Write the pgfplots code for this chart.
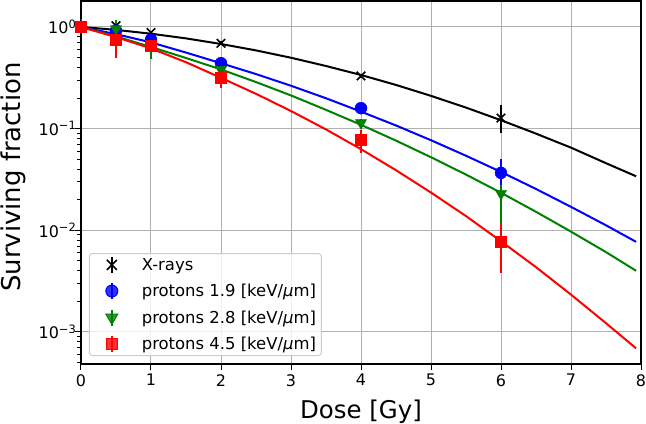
\documentclass[border=0pt]{standalone}
\usepackage{fontspec}
\setmainfont{DejaVu Sans}
\usepackage{pgfplots}
\usepackage{pgfplotstable}
\pgfplotsset{compat=1.18}

\definecolor{mplblue}{rgb}{0,0,1}
\definecolor{mplgreen}{rgb}{0,0.5,0}
\definecolor{mplred}{rgb}{1,0,0}
\definecolor{gridgray}{HTML}{B0B0B0}
\definecolor{legedge}{HTML}{CCCCCC}

\newcommand\tp[1]{10\raisebox{0.36em}{\fontsize{11.5}{12}\selectfont #1}}

% fitted survival curves
\pgfplotstableread{
D    k      b      g      r
0    1      1      1      1
0.5  0.936  0.850  0.808  0.795
1    0.858  0.705  0.635  0.615
1.5  0.772  0.560  0.495  0.450
2    0.680  0.440  0.382  0.316
2.5  0.588  0.344  0.287  0.220
3    0.498  0.264  0.212  0.149
3.5  0.413  0.199  0.153  0.0982
4    0.337  0.147  0.109  0.0628
4.5  0.269  0.1074 0.0762 0.0390
5    0.210  0.0769 0.0523 0.0235
5.5  0.161  0.0541 0.0353 0.0138
6    0.121  0.0375 0.0234 0.0078
6.5  0.0893 0.0255 0.0152 0.00434
7    0.065  0.0170 0.0097 0.00233
7.5  0.0457 0.0112 0.0061 0.00122
7.93 0.034  0.0077 0.0040 0.00069
}\fits

% measured points: dose, value, error plus, error minus
\pgfplotstableread{
x   y     ep     em
0   1.0   0.02   0.02
0.5 1.03  0.05   0.05
1   0.88  0.04   0.04
2   0.69  0.03   0.03
4   0.33  0.015  0.015
6   0.127 0.044  0.036
}\xrays
\pgfplotstableread{
x   y      ep     em
0   1.0    0.02   0.02
0.5 0.92   0.05   0.05
1   0.75   0.05   0.05
2   0.44   0.07   0.05
4   0.159  0.015  0.015
6   0.0367 0.014  0.012
}\pa
\pgfplotstableread{
x   y      ep     em
0   1.0    0.03   0.03
0.5 0.96   0.22   0.08
1   0.63   0.10   0.15
2   0.38   0.04   0.04
4   0.114  0.01   0.01
6   0.023  0.005  0.013
}\pb
\pgfplotstableread{
x   y      ep     em
0   1.0    0.20   0.13
0.5 0.745  0.10   0.245
1   0.66   0.07   0.07
2   0.315  0.04   0.065
4   0.077  0.02   0.019
6   0.0077 0.0041 0.0039
}\pc

\begin{document}
\begin{tikzpicture}
\path[use as bounding box] (-81bp,-60bp) rectangle (565bp,364bp);
\begin{axis}[
  at={(0bp,0bp)}, anchor=south west,
  scale only axis, width=560bp, height=363bp,
  xmin=0, xmax=8, ymode=log, ymin=4.84e-4, ymax=1.8,
  xtick={0,1,2,3,4,5,6,7,8},
  ytick={1e-3,1e-2,1e-1,1},
  yticklabels={\tp{−3},\tp{−2},\tp{−1},\tp{0}},
  minor ytick={5e-4,6e-4,7e-4,8e-4,9e-4,
    2e-3,3e-3,4e-3,5e-3,6e-3,7e-3,8e-3,9e-3,
    0.02,0.03,0.04,0.05,0.06,0.07,0.08,0.09,
    0.2,0.3,0.4,0.5,0.6,0.7,0.8,0.9},
  /pgf/number format/assume math mode=true,
  grid=major, major grid style={gridgray, line width=1bp},
  axis line style={line width=1.1bp},
  tick align=outside, tick pos=left,
  major tick length=6bp, minor tick length=3.5bp,
  every tick/.style={black, line width=1bp},
  ticklabel style={font=\fontsize{16}{19}\selectfont},
  xticklabel style={inner sep=0pt, anchor=north, yshift=-4bp},
  yticklabel style={inner sep=0pt, anchor=east, xshift=1bp},
  xlabel={Dose [Gy]}, ylabel={Surviving fraction},
  every axis x label/.style={at={(axis description cs:0.5,0)}, anchor=south,
    yshift=-60bp, inner sep=0pt, font=\fontsize{24.5}{29}\selectfont},
  every axis y label/.style={at={(axis description cs:0,0.515)}, xshift=-80bp,
    rotate=90, anchor=north, inner sep=0pt, font=\fontsize{26}{30}\selectfont},
  legend style={at={(0.014,0.022)}, anchor=south west, draw=legedge, line width=1bp,
    rounded corners=3bp, fill=white, fill opacity=0.8, text opacity=1,
    font=\fontsize{16.5}{19}\selectfont, row sep=7.5bp,
    nodes={inner sep=2.5bp}},
  legend cell align=left,
  error bars/y dir=both, error bars/y explicit,
  error bars/error mark=none,
  error bars/error bar style={line width=2bp},
]
\addplot[black, line width=2bp, forget plot] table[x=D, y=k] {\fits};
\addplot[black, only marks, mark=x, mark size=6bp, mark options={line width=1.6bp},
  legend image code/.code={
    \path (-19bp,0bp) (27bp,0bp);
    \draw[black, line width=2bp, sharp corners] (0bp,-8bp)--(0bp,8bp);
    \draw[black, line width=1.6bp, sharp corners]
      (-5bp,-5bp)--(5bp,5bp) (-5bp,5bp)--(5bp,-5bp);}]
  table[x=x, y=y, y error plus=ep, y error minus=em] {\xrays};
\addlegendentry{X-rays}

\addplot[mplblue, line width=2bp, forget plot] table[x=D, y=b] {\fits};
\addplot[mplblue, only marks, mark=*, mark size=6bp,
  legend image code/.code={
    \path (-19bp,0bp) (27bp,0bp);
    \draw[mplblue, line width=2bp, sharp corners] (0bp,-8bp)--(0bp,8bp);
    \fill[mplblue] (0bp,0bp) circle (6bp);}]
  table[x=x, y=y, y error plus=ep, y error minus=em] {\pa};
\addlegendentry{protons 1.9 [keV/\textit{μ}m]}

\addplot[mplgreen, line width=2bp, forget plot] table[x=D, y=g] {\fits};
\addplot[mplgreen, only marks, mark=triangle*, mark size=6.5bp, mark options={rotate=180},
  legend image code/.code={
    \path (-19bp,0bp) (27bp,0bp);
    \draw[mplgreen, line width=2bp, sharp corners] (0bp,-8bp)--(0bp,8bp);
    \fill[mplgreen, sharp corners] (-6bp,3.5bp)--(6bp,3.5bp)--(0bp,-6.8bp)--cycle;}]
  table[x=x, y=y, y error plus=ep, y error minus=em] {\pb};
\addlegendentry{protons 2.8 [keV/\textit{μ}m]}

\addplot[mplred, line width=2bp, forget plot] table[x=D, y=r] {\fits};
\addplot[mplred, only marks, mark=square*, mark size=5.5bp,
  legend image code/.code={
    \path (-19bp,0bp) (27bp,0bp);
    \draw[mplred, line width=2bp, sharp corners] (0bp,-8bp)--(0bp,8bp);
    \fill[mplred, sharp corners] (-5.5bp,-5.5bp) rectangle (5.5bp,5.5bp);}]
  table[x=x, y=y, y error plus=ep, y error minus=em] {\pc};
\addlegendentry{protons 4.5 [keV/\textit{μ}m]}
\end{axis}
\end{tikzpicture}
\end{document}
